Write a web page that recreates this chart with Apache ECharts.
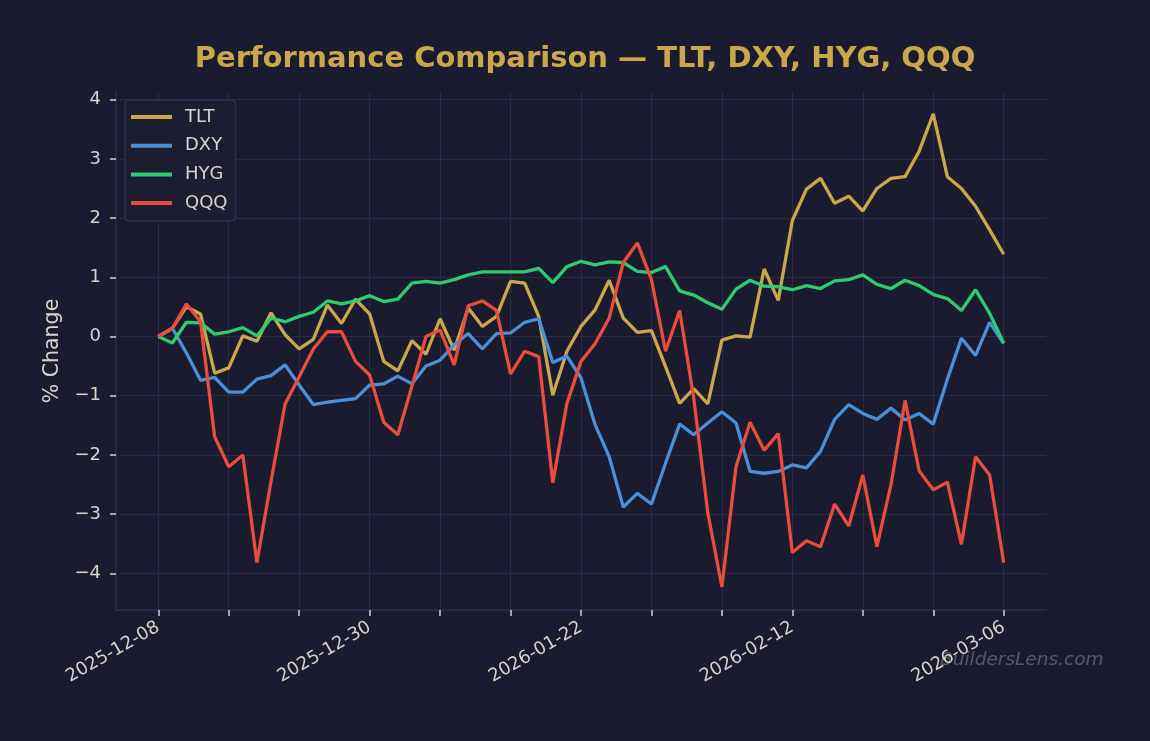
<!DOCTYPE html>
<html>
<head>
  <meta charset="utf-8">
  <title>Performance Comparison</title>
  <script src="https://cdn.jsdelivr.net/npm/echarts@6/dist/echarts.min.js"></script>
  <style>
    html, body { margin: 0; padding: 0; background: #1a1b2e; }
  </style>
</head>
<body>
  <div id="chart" style="width: 1150px; height: 741px;"></div>

  <script>
    // trading days (x positions are the index into this list)
    const dates = [
      '2025-12-08', '2025-12-09', '2025-12-10', '2025-12-11', '2025-12-12',
      '2025-12-15', '2025-12-16', '2025-12-17', '2025-12-18', '2025-12-19',
      '2025-12-22', '2025-12-23', '2025-12-24', '2025-12-26', '2025-12-29',
      '2025-12-30', '2025-12-31', '2026-01-02', '2026-01-05', '2026-01-06',
      '2026-01-07', '2026-01-08', '2026-01-09', '2026-01-12', '2026-01-13',
      '2026-01-14', '2026-01-15', '2026-01-16', '2026-01-20', '2026-01-21',
      '2026-01-22', '2026-01-23', '2026-01-26', '2026-01-27', '2026-01-28',
      '2026-01-29', '2026-01-30', '2026-02-02', '2026-02-03', '2026-02-04',
      '2026-02-05', '2026-02-06', '2026-02-09', '2026-02-10', '2026-02-11',
      '2026-02-12', '2026-02-13', '2026-02-17', '2026-02-18', '2026-02-19',
      '2026-02-20', '2026-02-23', '2026-02-24', '2026-02-25', '2026-02-26',
      '2026-02-27', '2026-03-02', '2026-03-03', '2026-03-04', '2026-03-05',
      '2026-03-06'
    ];

    // % change since first day
    const tlt = [
      0, 0.14, 0.5, 0.38, -0.62, -0.53, 0.01, -0.08, 0.4, 0.03,
      -0.21, -0.05, 0.53, 0.22, 0.63, 0.38, -0.42, -0.58, -0.07, -0.3,
      0.3, -0.23, 0.48, 0.17, 0.34, 0.93, 0.9, 0.34, -0.99, -0.25,
      0.17, 0.45, 0.95, 0.31, 0.07, 0.1, -0.51, -1.13, -0.88, -1.14,
      -0.06, 0.01, -0.01, 1.14, 0.61, 1.96, 2.49, 2.67, 2.25, 2.37,
      2.12, 2.5, 2.67, 2.7, 3.13, 3.76, 2.7, 2.5, 2.2, 1.8,
      1.39
    ];
    const dxy = [
      0, 0.14, -0.28, -0.74, -0.69, -0.94, -0.94, -0.72, -0.66, -0.48,
      -0.82, -1.15, -1.11, -1.08, -1.05, -0.82, -0.8, -0.67, -0.8, -0.5,
      -0.4, -0.14, 0.05, -0.21, 0.05, 0.06, 0.24, 0.3, -0.44, -0.33,
      -0.7, -1.49, -2.03, -2.88, -2.65, -2.83, -2.14, -1.48, -1.66, -1.46,
      -1.27, -1.46, -2.28, -2.31, -2.28, -2.17, -2.22, -1.94, -1.4, -1.15,
      -1.3, -1.4, -1.21, -1.41, -1.3, -1.48, -0.72, -0.03, -0.32, 0.24,
      -0.12
    ];
    const hyg = [
      0, -0.11, 0.24, 0.23, 0.04, 0.08, 0.15, 0.01, 0.31, 0.25,
      0.34, 0.41, 0.6, 0.55, 0.6, 0.69, 0.59, 0.63, 0.9, 0.93,
      0.9, 0.96, 1.04, 1.09, 1.09, 1.09, 1.09, 1.15, 0.91, 1.18,
      1.27, 1.21, 1.26, 1.25, 1.1, 1.08, 1.18, 0.77, 0.7, 0.57,
      0.46, 0.8, 0.95, 0.85, 0.84, 0.79, 0.86, 0.81, 0.94, 0.96,
      1.04, 0.88, 0.81, 0.95, 0.86, 0.71, 0.64, 0.44, 0.79, 0.39,
      -0.11
    ];
    const qqq = [
      0, 0.14, 0.55, 0.25, -1.69, -2.2, -2.0, -3.82, -2.45, -1.14,
      -0.68, -0.21, 0.08, 0.08, -0.42, -0.65, -1.45, -1.66, -0.84, 0.0,
      0.11, -0.48, 0.52, 0.6, 0.44, -0.63, -0.25, -0.34, -2.47, -1.13,
      -0.42, -0.12, 0.31, 1.25, 1.58, 0.96, -0.25, 0.44, -1.04, -2.98,
      -4.23, -2.2, -1.45, -1.92, -1.64, -3.65, -3.45, -3.55, -2.83, -3.2,
      -2.34, -3.55, -2.5, -1.08, -2.27, -2.59, -2.46, -3.51, -2.03, -2.34,
      -3.82
    ];

    const names = ['TLT', 'DXY', 'HYG', 'QQQ'];
    const colors = ['#c9a84c', '#4a90d9', '#2ecc71', '#e74c3c'];
    const values = [tlt, dxy, hyg, qqq];

    const xTicks = [0, 5, 10, 15, 20, 25, 30, 35, 40, 45, 50, 55, 60];
    const xLabels = [0, 15, 30, 45, 60];
    const yTicks = [-4, -3, -2, -1, 0, 1, 2, 3, 4];

    const textColor = '#d8d3c8';
    const gridColor = '#2a2c42';
    const spineColor = '#2e3048';
    const fontFamily = 'DejaVu Sans';

    const chart = echarts.init(document.getElementById('chart'));

    chart.setOption({
      backgroundColor: '#1a1b2e',
      animation: false,
      textStyle: { fontFamily: fontFamily },
      title: {
        text: 'Performance Comparison — TLT, DXY, HYG, QQQ',
        left: 580,
        top: 40,
        textAlign: 'center',
        textStyle: { color: '#c9a84c', fontSize: 29, fontWeight: 'bold', fontFamily: fontFamily }
      },
      legend: {
        orient: 'vertical',
        left: 125,
        top: 100,
        padding: [8, 8, 9, 6],
        itemGap: 10.7,
        itemWidth: 41,
        itemHeight: 4,
        icon: 'rect',
        backgroundColor: '#1c1d31',
        borderColor: '#2f3148',
        borderWidth: 1.5,
        borderRadius: 4,
        textStyle: { color: textColor, fontSize: 18, padding: [0, 0, 0, 8] },
        data: names
      },
      grid: { left: 116, right: 104, top: 92, bottom: 131, containLabel: false },
      xAxis: {
        type: 'value',
        min: -3,
        max: 63,
        axisLine: { show: true, onZero: false, lineStyle: { color: spineColor, width: 1.5 } },
        axisTick: {
          show: true,
          customValues: xTicks,
          length: 6,
          lineStyle: { color: textColor, width: 1.5 }
        },
        axisLabel: {
          customValues: xLabels,
          rotate: 30,
          color: textColor,
          fontSize: 18,
          margin: 16,
          formatter: function (v) { return dates[Math.round(v)] || ''; }
        },
        splitLine: { show: true, lineStyle: { color: gridColor, width: 1 } }
      },
      yAxis: {
        type: 'value',
        min: -4.62,
        max: 4.13,
        name: '% Change',
        nameLocation: 'middle',
        nameGap: 50,
        nameTextStyle: { color: textColor, fontSize: 20.5 },
        axisLine: { show: true, onZero: false, lineStyle: { color: spineColor, width: 1.5 } },
        axisTick: {
          show: true,
          customValues: yTicks,
          length: 6,
          lineStyle: { color: textColor, width: 1.5 }
        },
        axisLabel: {
          customValues: yTicks,
          color: textColor,
          fontSize: 18,
          margin: 15,
          formatter: function (v) { return v < 0 ? '\u2212' + Math.abs(v) : String(v); }
        },
        splitLine: { show: true, lineStyle: { color: gridColor, width: 1 } }
      },
      graphic: [{
        type: 'text',
        left: 940,
        top: 651,
        style: {
          text: 'BuildersLens.com',
          fill: 'rgba(150,150,150,0.5)',
          font: 'italic 18.5px "DejaVu Sans"'
        }
      }],
      series: names.map(function (name, k) {
        return {
          name: name,
          type: 'line',
          showSymbol: false,
          symbol: 'none',
          lineStyle: { color: colors[k], width: 3.3 },
          itemStyle: { color: colors[k] },
          data: values[k].map(function (v, i) { return [i, v]; })
        };
      })
    });
  </script>
</body>
</html>
